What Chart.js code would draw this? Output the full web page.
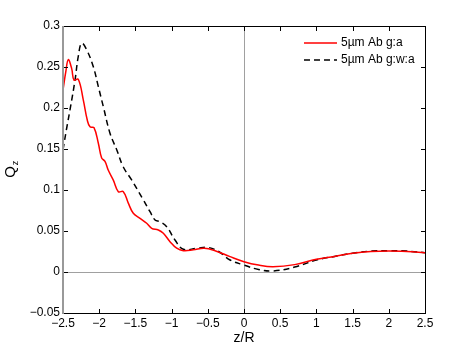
<!DOCTYPE html>
<html>
<head>
<meta charset="utf-8">
<script src="https://cdn.jsdelivr.net/npm/chart.js@4/dist/chart.umd.min.js"></script>
<style>body{margin:0;background:#fff}canvas{display:block}</style>
</head>
<body>
<canvas id="chart" width="469" height="353"></canvas>
<script>
// red solid curve
const zRed = [-2.5, -2.46, -2.427, -2.38, -2.348, -2.289, -2.22, -2.164, -2.127, -2.072, -2.012, -1.966, -1.92, -1.874, -1.805, -1.736, -1.667, -1.598, -1.529, -1.436, -1.344, -1.275, -1.183, -1.114, -1.022, -0.93, -0.838, -0.7, -0.55, -0.4, -0.193, 0, 0.2, 0.4, 0.7, 1.0, 1.25, 1.5, 1.75, 2.0, 2.25, 2.5];
const qRed = [0.222, 0.245, 0.259, 0.248, 0.234, 0.235, 0.210, 0.185, 0.177, 0.176, 0.157, 0.139, 0.135, 0.124, 0.112, 0.098, 0.098, 0.084, 0.0716, 0.0655, 0.0594, 0.0533, 0.0512, 0.0472, 0.037, 0.029, 0.026, 0.027, 0.029, 0.026, 0.0187, 0.0126, 0.0085, 0.0065, 0.009, 0.0155, 0.019, 0.0228, 0.025, 0.0256, 0.025, 0.0236];
// black dashed curve
const zBlack = [-2.5, -2.45, -2.403, -2.334, -2.289, -2.242, -2.173, -2.08, -2.012, -1.943, -1.85, -1.758, -1.667, -1.55, -1.39, -1.298, -1.229, -1.16, -1.068, -0.953, -0.838, -0.65, -0.5, -0.35, -0.193, 0, 0.2, 0.4, 0.7, 1.0, 1.25, 1.5, 1.75, 2.0, 2.25, 2.5];
const qBlack = [0.149, 0.175, 0.198, 0.234, 0.263, 0.279, 0.271, 0.250, 0.226, 0.2016, 0.169, 0.149, 0.128, 0.112, 0.0878, 0.0735, 0.0634, 0.0614, 0.0553, 0.039, 0.0277, 0.029, 0.030, 0.025, 0.0146, 0.0085, 0.003, 0.0012, 0.006, 0.0146, 0.019, 0.0228, 0.0255, 0.026, 0.0255, 0.0236];

const seriesLabels = ['5µm Ab g:a', '5µm Ab g:w:a'];
const xTicks = [-2.5, -2, -1.5, -1, -0.5, 0, 0.5, 1, 1.5, 2, 2.5];
const yTicks = [-0.05, 0, 0.05, 0.1, 0.15, 0.2, 0.25, 0.3];

const FONT = "'Liberation Sans', Arial, sans-serif";
const toPts = (xs, ys) => xs.map((x, i) => ({x: x, y: ys[i]}));
const fmt = v => String(v).replace('-', '\u2212');

const matlabAxes = {
    id: 'matlabAxes',
    beforeDatasetsDraw(chart) {
        const ctx = chart.ctx, a = chart.chartArea;
        const sx = chart.scales.x, sy = chart.scales.y;
        ctx.save();
        ctx.fillStyle = '#a0a0a0';
        const x0 = Math.round(sx.getPixelForValue(0));
        const y0 = Math.round(sy.getPixelForValue(0));
        ctx.fillRect(x0, a.top, 1, a.bottom - a.top);
        ctx.fillRect(a.left, y0, a.right - a.left, 1);
        ctx.restore();
    },
    afterDraw(chart) {
        const ctx = chart.ctx, a = chart.chartArea;
        const sx = chart.scales.x, sy = chart.scales.y;
        const L = Math.round(a.left), R = Math.round(a.right);
        const T = Math.round(a.top), B = Math.round(a.bottom);
        ctx.save();
        // frame and inward ticks
        ctx.fillStyle = '#000';
        ctx.fillRect(L, T, R - L + 1, 1);
        ctx.fillRect(L, B, R - L + 1, 1);
        ctx.fillRect(R, T, 1, B - T + 1);
        xTicks.forEach(v => {
            const p = Math.round(sx.getPixelForValue(v));
            ctx.fillRect(p, B - 4, 1, 4);
            ctx.fillRect(p, T + 1, 1, 4);
        });
        yTicks.forEach(v => {
            const p = Math.round(sy.getPixelForValue(v));
            ctx.fillRect(L + 1, p, 4, 1);
            ctx.fillRect(R - 4, p, 4, 1);
        });
        // left spine drawn gray and thicker
        ctx.fillStyle = '#999';
        ctx.fillRect(L - 1, T, 2, B - T + 1);

        // legend
        ctx.font = '12px ' + FONT;
        ctx.textBaseline = 'middle';
        ctx.textAlign = 'left';
        chart.data.datasets.forEach((ds, i) => {
            const y = 43 + i * 17;
            ctx.strokeStyle = ds.borderColor;
            ctx.lineWidth = 1.5;
            ctx.setLineDash(ds.borderDash || []);
            ctx.beginPath();
            ctx.moveTo(304, y); ctx.lineTo(337, y);
            ctx.stroke();
            ctx.setLineDash([]);
            ctx.fillStyle = '#000';
            ctx.fillText(ds.label, 341, y);
        });

        // axis titles
        ctx.fillStyle = '#000';
        ctx.font = '14px ' + FONT;
        ctx.textAlign = 'center';
        ctx.fillText('z/R', (a.left + a.right) / 2, 338);
        ctx.translate(11, 172);
        ctx.rotate(-Math.PI / 2);
        ctx.font = '15px ' + FONT;
        ctx.fillText('Q', 0, 0);
        ctx.font = '9px ' + FONT;
        ctx.fillText('z', 9, 5);
        ctx.restore();
    }
};

const chart_config = {
    type: 'line',
    data: {
        datasets: [{
            label: seriesLabels[0],
            data: toPts(zRed, qRed),
            borderColor: 'rgb(255,0,0)',
            borderWidth: 1.5,
            tension: 0.4
        }, {
            label: seriesLabels[1],
            data: toPts(zBlack, qBlack),
            borderColor: 'rgb(0,0,0)',
            borderWidth: 1.5,
            borderDash: [6, 4],
            tension: 0.4
        }]
    },
    options: {
        responsive: false,
        animation: false,
        layout: {padding: {left: 0, right: 44, top: 26, bottom: 0}},
        elements: {point: {radius: 0}},
        scales: {
            x: {
                type: 'linear',
                min: -2.5,
                max: 2.5,
                grid: {display: false, drawTicks: false, tickLength: 0},
                border: {display: false},
                afterBuildTicks: s => { s.ticks = xTicks.map(v => ({value: v})); },
                afterFit: s => { s.height = 40; },
                ticks: {
                    color: '#000',
                    padding: 3,
                    maxRotation: 0,
                    font: {family: FONT, size: 12},
                    callback: v => fmt(v)
                }
            },
            y: {
                min: -0.05,
                max: 0.3,
                grid: {display: false, drawTicks: false, tickLength: 0},
                border: {display: false},
                afterBuildTicks: s => { s.ticks = yTicks.map(v => ({value: v})); },
                afterFit: s => { s.width = 63; },
                ticks: {
                    color: '#000',
                    padding: 3,
                    font: {family: FONT, size: 12},
                    callback: v => fmt(v)
                }
            }
        },
        plugins: {
            legend: {display: false},
            tooltip: {enabled: false}
        }
    },
    plugins: [matlabAxes]
};

var chart = new Chart(document.getElementById('chart'), chart_config);
</script>
</body>
</html>
